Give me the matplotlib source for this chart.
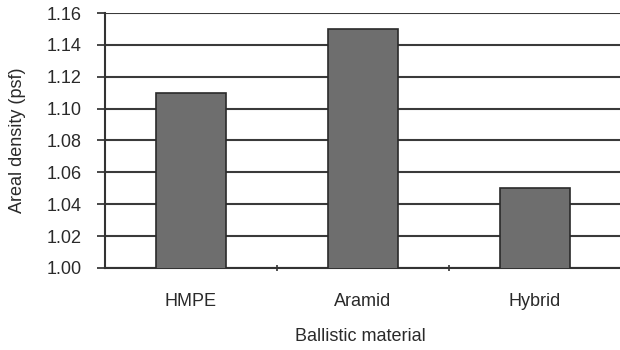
import matplotlib
matplotlib.use("Agg")
import matplotlib.pyplot as plt
import numpy as np

plt.rcParams['font.family'] = ['Liberation Sans', 'DejaVu Sans']

materials = ["HMPE", "Aramid", "Hybrid"]
areal_density = [1.11, 1.15, 1.05]
y_ticks = [1.00, 1.02, 1.04, 1.06, 1.08, 1.10, 1.12, 1.14, 1.16]

fig = plt.figure(figsize=(6.2, 3.5), dpi=100)
ax = fig.add_axes([105 / 620, 1 - 268 / 350, 516 / 620, 255 / 350])

x = np.arange(len(materials))
ax.bar(x, areal_density, width=0.41, bottom=0, color="#6e6e6e",
       edgecolor="#2a2a2a", linewidth=1.2, zorder=3)

ax.set_ylim(1.00, 1.16)
ax.set_xlim(-0.5, len(materials) - 0.5)
ax.set_yticks(y_ticks)
ax.set_yticklabels([f"{v:.2f}" for v in y_ticks])
ax.yaxis.grid(True, color="#3a3a3a", linewidth=1.5, zorder=1)
ax.set_axisbelow(True)

ax.set_xticks(x)
ax.set_xticklabels(materials)
ax.set_xticks([0.5, 1.5], minor=True)
ax.tick_params(axis="x", which="major", length=0, pad=18, labelsize=13, colors="#2a2a2a")
ax.tick_params(axis="x", which="minor", length=4, direction="inout", width=1.2, color="#333333")
ax.tick_params(axis="y", length=6, width=1.2, direction="out", pad=11, labelsize=13,
               colors="#2a2a2a")

for side in ("top", "right"):
    ax.spines[side].set_visible(False)
for side in ("left", "bottom"):
    ax.spines[side].set_color("#333333")
    ax.spines[side].set_linewidth(1.5)

ax.set_xlabel("Ballistic material", fontsize=13, color="#2a2a2a", va="center")
ax.xaxis.set_label_coords(0.495, -0.268)
ax.set_ylabel("Areal density (psf)", fontsize=13, color="#2a2a2a", va="center")
ax.yaxis.set_label_coords(-0.17, 0.50)

fig.savefig("out.png", dpi=100)
